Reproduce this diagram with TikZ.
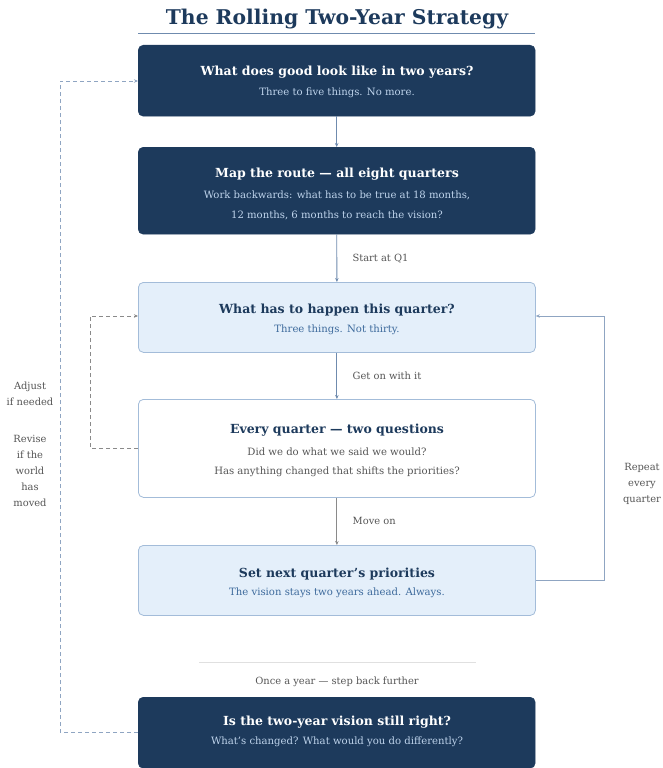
\documentclass[tikz,border=0pt]{standalone}
\usepackage{fontspec}
\setmainfont{DejaVu Serif}
\usetikzlibrary{arrows.meta}
\definecolor{navy}{HTML}{1D3A5C}
\definecolor{lightsub}{HTML}{BFD4EC}
\definecolor{palefill}{HTML}{E4EFFA}
\definecolor{paleedge}{HTML}{A3BCD9}
\definecolor{bluesub}{HTML}{3D6A9C}
\definecolor{greytxt}{HTML}{555555}
\definecolor{arrowblue}{HTML}{6F8BAE}
\definecolor{dashgrey}{HTML}{8A8A8A}
\definecolor{dashblue}{HTML}{8FA5C2}
\tikzset{
  box/.style={rounded corners=5pt, minimum width=397pt, anchor=north west, inner sep=0pt},
  darkbox/.style={box, fill=navy, draw=navy},
  palebox/.style={box, fill=palefill, draw=paleedge, line width=0.8pt},
  whitebox/.style={box, fill=white, draw=paleedge, line width=0.8pt},
  ttl/.style={font=\fontsize{12.5}{15}\selectfont\bfseries},
  sub/.style={font=\fontsize{10.1}{12}\selectfont},
  lbl/.style={font=\fontsize{9.9}{16}\selectfont, text=greytxt},
  flow/.style={draw=arrowblue, line width=0.9pt, -{Stealth[length=4pt,width=3.5pt]}},
}
\begin{document}
\begin{tikzpicture}[x=1pt,y=-1pt]
\useasboundingbox (0,0) rectangle (663,768);
% title
\node[font=\fontsize{20.3}{23}\selectfont\bfseries, text=navy] (title) at (337,19) {The Rolling Two-Year Strategy};
\coordinate (ul1) at (138,33); \coordinate (ul2) at (535,33);
\draw[draw=arrowblue, line width=0.8pt] (ul1) -- (ul2);
% boxes
\node[darkbox, minimum height=71pt] (b1) at (138,45) {};
\node[ttl, text=white] (b1t) at (337,72) {What does good look like in two years?};
\node[sub, text=lightsub] (b1s) at (337,93) {Three to five things. No more.};

\node[darkbox, minimum height=87pt] (b2) at (138,147) {};
\node[ttl, text=white] (b2t) at (337,174) {Map the route — all eight quarters};
\node[sub, text=lightsub] (b2s) at (337,195) {Work backwards: what has to be true at 18 months,};
\node[sub, text=lightsub] (b2s2) at (337,215) {12 months, 6 months to reach the vision?};

\node[palebox, minimum height=70pt] (b3) at (138,282) {};
\node[ttl, text=navy] (b3t) at (337,310) {What has to happen this quarter?};
\node[sub, text=bluesub] (b3s) at (337,330) {Three things. Not thirty.};

\node[whitebox, minimum height=98pt] (b4) at (138,399) {};
\node[ttl, text=navy] (b4t) at (337,430) {Every quarter — two questions};
\node[sub, text=greytxt] (b4s) at (337,452) {Did we do what we said we would?};
\node[sub, text=greytxt] (b4s2) at (337,472) {Has anything changed that shifts the priorities?};

\node[palebox, minimum height=70pt] (b5) at (138,545) {};
\node[ttl, text=navy] (b5t) at (337,574) {Set next quarter's priorities};
\node[sub, text=bluesub] (b5s) at (337,593) {The vision stays two years ahead. Always.};

\coordinate (d1) at (199,662); \coordinate (d2) at (476,662);
\draw[draw=black!12, line width=0.9pt] (d1) -- (d2);
\node[lbl] (once) at (337,682) {Once a year — step back further};

\node[darkbox, minimum height=71pt] (b6) at (138,697) {};
\node[ttl, text=white] (b6t) at (337,722) {Is the two-year vision still right?};
\node[sub, text=lightsub] (b6s) at (337,742) {What's changed? What would you do differently?};

% main flow
\draw[flow] (b1.south) -- (b2.north);
\draw[flow] (b2.south) -- (b3.north) node[midway, right=12pt, lbl] {Start at Q1};
\draw[flow] (b3.south) -- (b4.north) node[midway, right=12pt, lbl] {Get on with it};
\draw[flow, draw=dashgrey] (b4.south) -- (b5.north) node[midway, right=12pt, lbl] {Move on};

% repeat loop
\coordinate (r1) at (604,580); \coordinate (r2) at (604,316);
\draw[flow, draw=dashblue] (b5.east |- r1) -- (r1) -- (r2) -- (b3.east |- r2);
\node[lbl, align=center] (rep) at (642,484) {Repeat\\every\\quarter};

% adjust loop
\coordinate (a1) at (90,448); \coordinate (a2) at (90,316);
\draw[flow, draw=dashgrey, dashed, dash pattern=on 4pt off 3pt] (b4.west |- a1) -- (a1) -- (a2) -- (b3.west |- a2);

% revise loop
\coordinate (v1) at (60,732); \coordinate (v2) at (60,81);
\draw[flow, draw=dashblue, dashed, dash pattern=on 4pt off 3pt] (b6.west |- v1) -- (v1) -- (v2) -- (b1.west |- v2);
\node[lbl, align=center] (adj) at (30,394) {Adjust\\if needed};
\node[lbl, align=center] (rev) at (30,471) {Revise\\if the\\world\\has\\moved};
\end{tikzpicture}
\end{document}
